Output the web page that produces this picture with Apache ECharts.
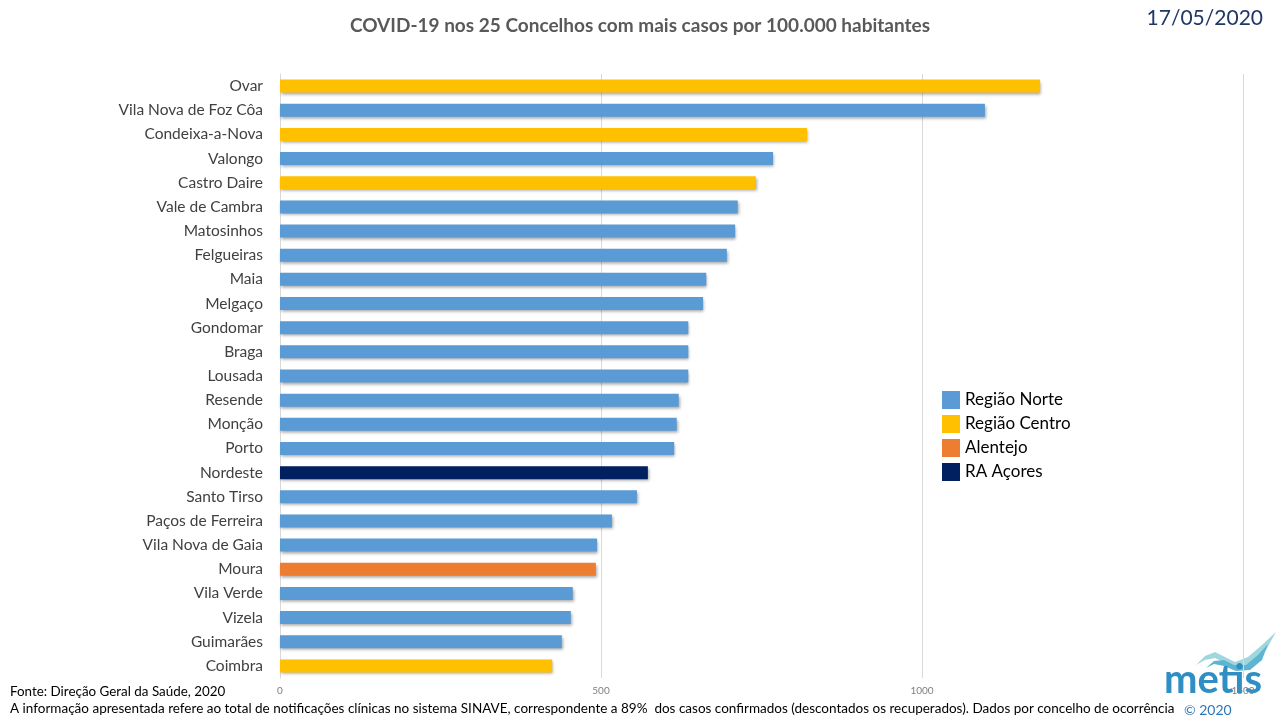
<!DOCTYPE html>
<html><head><meta charset="utf-8">
<script src="https://cdn.jsdelivr.net/npm/echarts@6/dist/echarts.min.js"></script>
<style>html,body{margin:0;padding:0;background:#fff}#c{width:1280px;height:720px}</style>
</head><body><div id="c"></div>
<script>
const categories = ["Ovar","Vila Nova de Foz Côa","Condeixa-a-Nova","Valongo","Castro Daire","Vale de Cambra","Matosinhos","Felgueiras","Maia","Melgaço","Gondomar","Braga","Lousada","Resende","Monção","Porto","Nordeste","Santo Tirso","Paços de Ferreira","Vila Nova de Gaia","Moura","Vila Verde","Vizela","Guimarães","Coimbra"];
const values = [1184,1098,821,768,741,713,709,696,664,659,636,636,636,621,618,614,573,556,517,494,492,456,453,439,424];
const regions = ["Centro","Norte","Centro","Norte","Centro","Norte","Norte","Norte","Norte","Norte","Norte","Norte","Norte","Norte","Norte","Norte","Açores","Norte","Norte","Norte","Alentejo","Norte","Norte","Norte","Centro"];
const regionNames = {Norte:"Região Norte", Centro:"Região Centro", Alentejo:"Alentejo", "Açores":"RA Açores"};
const regionOrder = ["Norte","Centro","Alentejo","Açores"];
const regionColors = {Norte:"#5b9bd5", Centro:"#ffc000", Alentejo:"#ed7d31", "Açores":"#002060"};
const xTicks = [0,500,1000,1500];

const FONT = "Lato, 'Open Sans', sans-serif";
const series = regionOrder.map(r => ({
  name: regionNames[r],
  type: 'bar',
  stack: 'all',
  barWidth: 13,
  data: values.map((v,i) => regions[i] === r ? v : null),
  itemStyle: {color: regionColors[r], shadowColor:'rgba(0,0,0,0.35)', shadowBlur:3, shadowOffsetX:1, shadowOffsetY:2},
  emphasis:{disabled:true}
}));

const chart = echarts.init(document.getElementById('c'));
chart.setOption({
  animation:false,
  backgroundColor:'#fff',
  title:{text:'COVID-19 nos 25 Concelhos com mais casos por 100.000 habitantes', left:'center', top:11,
    textStyle:{fontFamily:FONT, fontSize:19, fontWeight:'bold', color:'#595959'}},
  legend:{orient:'vertical', left:937, top:386, itemWidth:18, itemHeight:18, itemGap:6,
    icon:'rect', selectedMode:false,
    textStyle:{fontFamily:FONT, fontSize:17, color:'#000', padding:[-8,0,0,0]},
    data: regionOrder.map(r=>regionNames[r])},
  grid:{left:280, right:37, top:74, bottom:42, containLabel:false},
  xAxis:{type:'value', min:xTicks[0], max:xTicks[xTicks.length-1], interval:500,
    axisLine:{show:false}, axisTick:{show:false},
    axisLabel:{fontFamily:FONT, fontSize:10, color:'#7f7f7f', margin:8, formatter: v => String(v)},
    splitLine:{show:true, lineStyle:{color:'#d9d9d9', width:1}}},
  yAxis:{type:'category', data:categories, inverse:true,
    axisLine:{show:true, lineStyle:{color:'#d9d9d9'}}, axisTick:{show:false},
    axisLabel:{fontFamily:FONT, fontSize:15.5, color:'#404040', margin:17}},
  series: series,
  graphic:[
    {type:'text', right:17, top:8, style:{text:'17/05/2020', fontFamily:FONT, fontSize:21, fill:'#1f3864'}},
    {type:'text', left:10, top:685, style:{text:'Fonte: Direção Geral da Saúde, 2020', fontFamily:FONT, fontSize:13.4, fill:'#000'}},
    {type:'text', left:10, top:702, style:{text:'A informação apresentada refere ao total de notificações clínicas no sistema SINAVE, correspondente a 89%  dos casos confirmados (descontados os recuperados). Dados por concelho de ocorrência', fontFamily:FONT, fontSize:13.5, fill:'#000'}},
    {type:'text', left:1184, top:703, style:{text:'© 2020', fontFamily:FONT, fontSize:14, fill:'#2e75b6'}},
    {type:'polygon', shape:{points:[[1196,665],[1205,656],[1215,652],[1225,657],[1235,662],[1248,657],[1262,645],[1276,632],[1266,650],[1252,665],[1240,668],[1228,664],[1215,658],[1205,660]]}, style:{fill:'#9fd6e0'}},
    {type:'polygon', shape:{points:[[1206,668],[1214,661],[1224,660],[1234,665],[1246,665],[1258,655],[1268,644],[1262,660],[1250,670],[1236,671],[1224,666],[1214,664]]}, style:{fill:'#5fb5cf'}},
    {type:'text', left:1164, top:660, style:{text:'metis', fontFamily:FONT, fontSize:40, fontWeight:'bold', fill:'#2f8fc4'}}
  ]
});
</script></body></html>
